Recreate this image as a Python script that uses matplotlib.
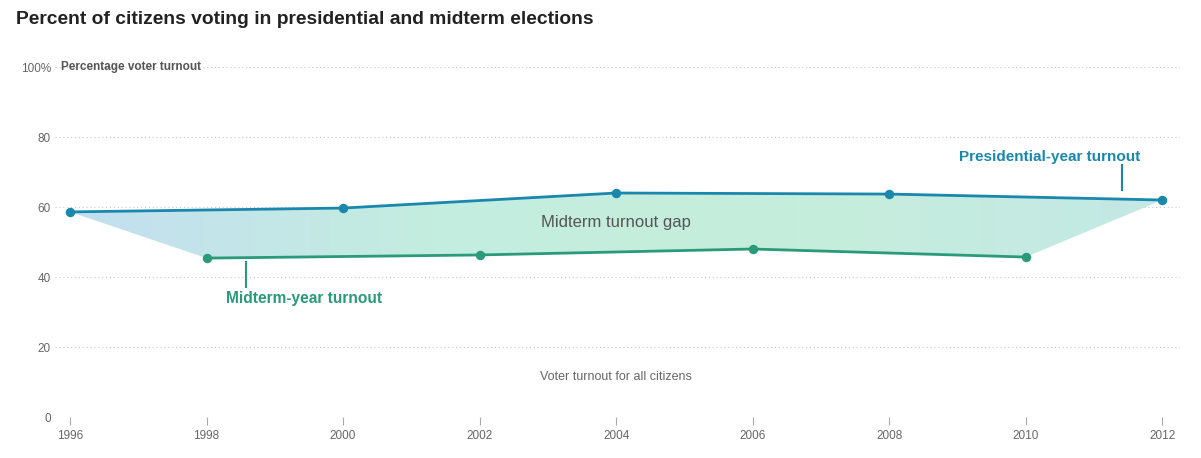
import matplotlib.pyplot as plt
import numpy as np
from matplotlib.colors import LinearSegmentedColormap
from matplotlib.patches import Polygon

plt.rcParams["font.family"] = ["Liberation Sans", "DejaVu Sans"]

pres_years = [1996, 2000, 2004, 2008, 2012]
pres_turnout = [58.6, 59.7, 64.0, 63.7, 62.0]
mid_years = [1998, 2002, 2006, 2010]
mid_turnout = [45.4, 46.3, 48.0, 45.7]
x_ticks = [1996, 1998, 2000, 2002, 2004, 2006, 2008, 2010, 2012]
y_ticks = [0, 20, 40, 60, 80, 100]
y_labels = ["0", "20", "40", "60", "80", "100%"]

pres_color = "#1a87ad"
mid_color = "#2a9a7b"

fig = plt.figure(figsize=(12.01, 4.58), dpi=100)
ax = fig.add_axes([0.0458, 0.0895, 0.9367, 0.7642])
ax.set_xlim(1995.78, 2012.26)
ax.set_ylim(0, 100)

# gap polygon: presidential on top, midterm (plus end points) below
bottom_x = [pres_years[0]] + mid_years + [pres_years[-1]]
bottom_y = [pres_turnout[0]] + mid_turnout + [pres_turnout[-1]]
poly_x = pres_years + bottom_x[::-1]
poly_y = pres_turnout + bottom_y[::-1]
poly = Polygon(np.column_stack([poly_x, poly_y]), closed=True,
               facecolor="none", edgecolor="none")
ax.add_patch(poly)
cmap = LinearSegmentedColormap.from_list(
    "gap", ["#c4dff0", "#c3eddf", "#c6eedb", "#c3e8e6"])
grad = np.linspace(0, 1, 256).reshape(1, -1)
img = ax.imshow(grad, cmap=cmap, aspect="auto",
                extent=[1996, 2012, 40, 70], zorder=1)
img.set_clip_path(poly)

for y in y_ticks:
    ax.axhline(y, color="#c8c8c8", lw=0.8, ls=(0, (1, 2.5)), zorder=0)

ax.plot(pres_years, pres_turnout, color=pres_color, lw=2.0, marker="o",
        ms=5.8, zorder=3)
ax.plot(mid_years, mid_turnout, color=mid_color, lw=2.0, marker="o",
        ms=5.8, zorder=3)

for s in ax.spines.values():
    s.set_visible(False)
ax.set_xticks(x_ticks)
ax.set_xticklabels([str(x) for x in x_ticks])
ax.set_yticks(y_ticks)
ax.set_yticklabels(y_labels)
ax.tick_params(axis="x", length=6, color="#aaaaaa", labelsize=8.5,
               labelcolor="#666666", pad=3)
ax.tick_params(axis="y", length=0, labelsize=8.5, labelcolor="#666666", pad=3)

ax.text(1995.87, 100, "Percentage voter turnout", fontsize=8.5,
        fontweight="bold", color="#555555", va="center", ha="left")

ax.text(2004, 55.7, "Midterm turnout gap", fontsize=12, color="#555555",
        ha="center", va="center", zorder=4)
ax.text(2004, 11.4, "Voter turnout for all citizens", fontsize=9,
        color="#666666", ha="center", va="center")

ax.text(2010.35, 74.3, "Presidential-year turnout", fontsize=11,
        fontweight="bold", color=pres_color, ha="center", va="center")
ax.plot([2011.41, 2011.41], [64.9, 72], color=pres_color, lw=1.5)
ax.text(1999.43, 34.0, "Midterm-year turnout", fontsize=11.2,
        fontweight="bold", color=mid_color, ha="center", va="center")
ax.plot([1998.58, 1998.58], [37.1, 44.3], color=mid_color, lw=1.5)

fig.text(16 / 1201, 1 - 19 / 458, "Percent of citizens voting in presidential and midterm elections",
         fontsize=13.9, fontweight="bold", color="#222222", ha="left", va="center")

plt.savefig("out.png", dpi=100)
